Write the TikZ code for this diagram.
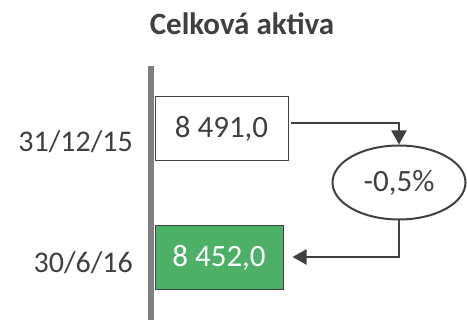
\documentclass[tikz,border=0pt]{standalone}
\usepackage{fontspec}
\setmainfont{Carlito}
\definecolor{ink}{HTML}{404040}
\definecolor{axis}{HTML}{7F7F7F}
\definecolor{rise}{HTML}{4CB067}
\usetikzlibrary{arrows.meta,shapes.geometric}
\tikzset{
  valbox/.style={draw=ink,line width=1pt,inner sep=0pt,minimum height=64pt,
    font=\fontsize{31}{36}\selectfont,text=ink},
  datelbl/.style={anchor=base east,inner sep=0pt,font=\fontsize{30}{36}\selectfont,text=ink},
  arr/.style={-{Triangle[length=14pt,width=15pt]},draw=ink,line width=2pt},
}
\begin{document}
\begin{tikzpicture}[x=1pt,y=-1pt,
    change/.style={ellipse,draw=ink,line width=2pt,inner sep=0pt,
      minimum width=133pt,minimum height=74pt,font=\fontsize{31}{36}\selectfont,text=ink}]
  \useasboundingbox (0,0) rectangle (467,320);

  \node[anchor=base,inner sep=0pt,font=\fontsize{31}{36}\selectfont\bfseries,text=ink]
    (title) at (242,35) {Celková aktiva};

  % time axis
  \fill[axis] (148,66) rectangle (154,320);

  \node[datelbl] (d1) at (133,152) {31/12/15};
  \node[datelbl] (d2) at (133,273) {30/6/16};

  \node[valbox,fill=white,minimum width=133pt] (old) at (221.5,129) {8 491,0};
  \node[valbox,fill=rise,text=white,minimum width=128pt] (new) at (219,258) {8 452,0};
  \node[change] (chg) at (399,182.5) {-0,5\%};

  \draw[arr] ([xshift=2pt,yshift=6pt]old.east) -| (chg.north);
  \draw[arr] (chg.south) |- ([xshift=9pt,yshift=1pt]new.east);
\end{tikzpicture}
\end{document}
